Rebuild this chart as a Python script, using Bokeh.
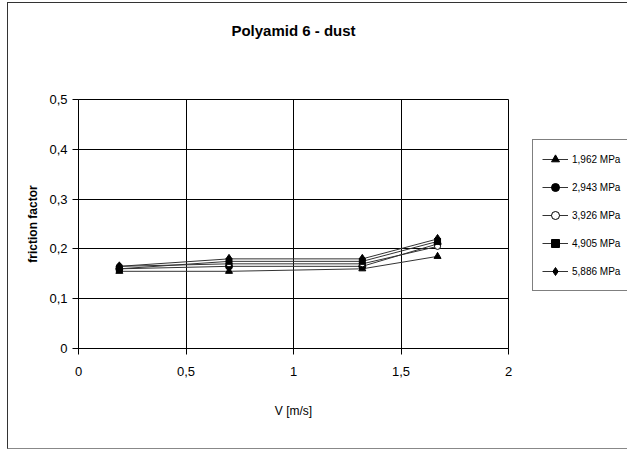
from bokeh.plotting import figure
from bokeh.models import Range1d, FixedTicker, CustomJSTickFormatter, Legend, LegendItem, Title
from bokeh.embed import file_html
from bokeh.resources import INLINE

# Data
speed = [0.19, 0.70, 1.32, 1.67]
series_names = ["1,962 MPa", "2,943 MPa", "3,926 MPa", "4,905 MPa", "5,886 MPa"]
s_1962 = [0.155, 0.155, 0.160, 0.185]
s_2943 = [0.160, 0.165, 0.165, 0.210]
s_3926 = [0.165, 0.170, 0.170, 0.205]
s_4905 = [0.160, 0.175, 0.175, 0.215]
s_5886 = [0.165, 0.180, 0.180, 0.220]
x_ticks = [0, 0.5, 1, 1.5, 2]
y_ticks = [0, 0.1, 0.2, 0.3, 0.4, 0.5]

FONT = "Liberation Sans"

p = figure(frame_width=430, frame_height=249, output_backend="svg", toolbar_location=None,
           x_range=Range1d(0, 2), y_range=Range1d(0, 0.5),
           min_border_left=70, min_border_right=110, min_border_top=96, min_border_bottom=100)

p.title.text = "Polyamid 6 - dust"
p.title.align = "center"
p.title.text_font = FONT
p.title.text_font_size = "15px"
p.title.text_font_style = "bold"
p.title.text_color = "black"
p.title.standoff = 10

# blank spacer between title and plot area
spacer = Title(text=" ", text_font_size="40px", standoff=10, text_color="white")
p.add_layout(spacer, "above")

fmt = CustomJSTickFormatter(code="return (Math.round(tick*10)/10).toString().replace('.', ',');")

for ax, ticks in ((p.xaxis, x_ticks), (p.yaxis, y_ticks)):
    ax.ticker = FixedTicker(ticks=ticks)
    ax.formatter = fmt
    ax.minor_tick_line_color = None
    ax.major_tick_in = 0
    ax.major_tick_out = 6
    ax.axis_line_color = "black"
    ax.major_tick_line_color = "black"
    ax.major_label_text_font = FONT
    ax.major_label_text_font_size = "13px"
    ax.major_label_text_color = "black"
    ax.axis_label_text_font = FONT
    ax.axis_label_text_font_size = "12px"
    ax.axis_label_text_font_style = "normal"
    ax.axis_label_text_color = "black"

p.xaxis.axis_label = "V [m/s]"
p.yaxis.axis_label = "friction factor"
p.xaxis.major_label_standoff = 12
p.xaxis.axis_label_standoff = 25
p.yaxis.major_label_standoff = 5
p.yaxis.axis_label_standoff = 6
p.yaxis.axis_label_text_font_style = "bold"

p.xgrid.grid_line_color = "black"
p.ygrid.grid_line_color = "black"
p.xgrid.grid_line_alpha = 1
p.ygrid.grid_line_alpha = 1
p.outline_line_color = "black"
p.background_fill_color = "white"
p.border_fill_color = "white"

data = [s_1962, s_2943, s_3926, s_4905, s_5886]
markers = ["triangle", "circle", "circle", "square", "diamond"]
fills = ["black", "black", "white", "black", "black"]
sizes = [7, 7, 6, 6, 9]

items = []
for name, vals, mk, fc, sz in zip(series_names, data, markers, fills, sizes):
    ln = p.line(speed, vals, line_color="#333333", line_width=1)
    sc = p.scatter(speed, vals, marker=mk, size=sz, fill_color=fc, line_color="black")
    items.append(LegendItem(label=name, renderers=[ln, sc]))

legend = Legend(items=items, location=(24, 57))
legend.label_text_font = FONT
legend.label_text_font_size = "10px"
legend.label_text_color = "black"
legend.glyph_width = 26
legend.glyph_height = 20
legend.label_height = 20
legend.spacing = 8
legend.padding = 9
legend.margin = 0
legend.label_standoff = 4
legend.border_line_color = "black"
legend.border_line_width = 1
legend.background_fill_alpha = 1
p.add_layout(legend, "right")

p.styles = {"margin-left": "7px", "margin-top": "2px",
            "border-left": "1px solid #333", "border-top": "1px solid #333",
            "border-bottom": "1px solid #888"}

open("out.html", "w").write(file_html(p, INLINE))
